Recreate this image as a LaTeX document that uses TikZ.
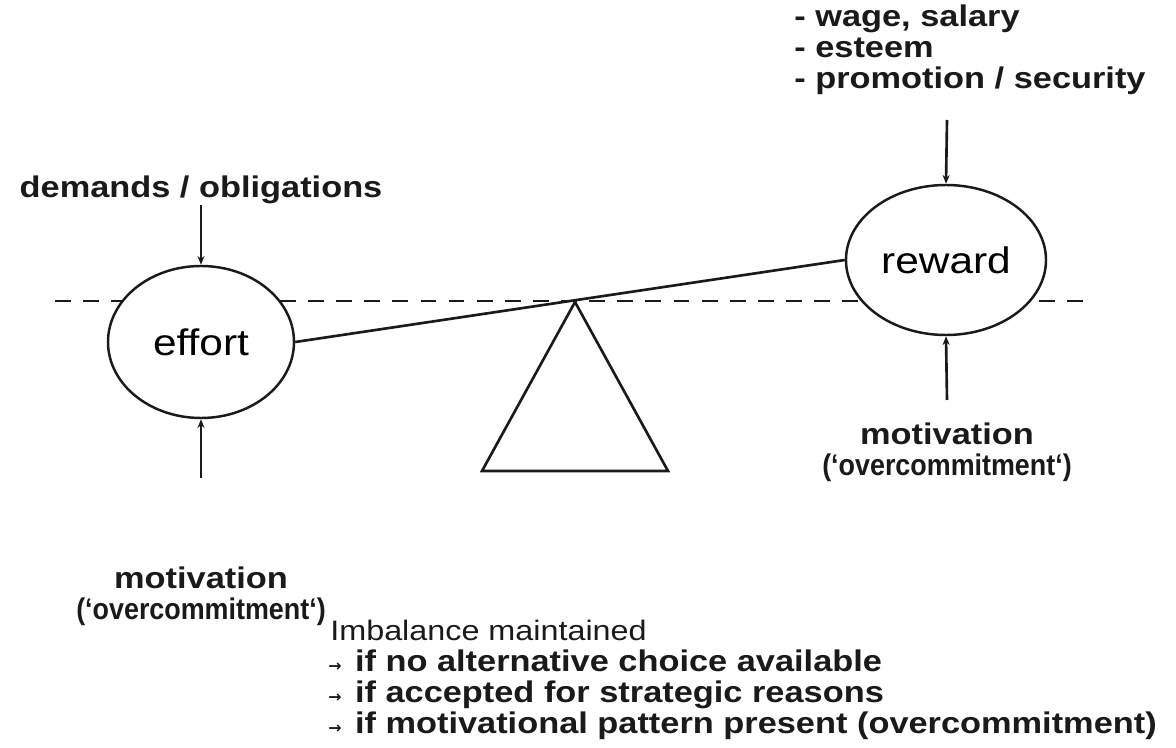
\documentclass[tikz,border=0pt]{standalone}
\usepackage{fontspec}
\setmainfont[FakeStretch=1.15]{Liberation Sans}
\newfontfamily\narrowfont[FakeStretch=0.9]{Liberation Sans}
\newfontfamily\arrowfont{DejaVu Sans}
\usepackage{tikz}
\usetikzlibrary{arrows.meta,shapes.geometric}
\definecolor{ScanInk}{HTML}{1A1A1A}
\newcommand{\tinyarrow}{{\arrowfont\fontsize{9}{9}\selectfont →}\hspace{0.45em}}

\begin{document}
\begin{tikzpicture}[>={Stealth[length=5pt,width=4pt]},
    pan/.style={ellipse,draw=ScanInk,fill=white,line width=1.4pt,font=\fontsize{21}{24}\selectfont},
    tag/.style={font=\bfseries\fontsize{17}{17.6}\selectfont,align=center,text=ScanInk,inner sep=0pt},
    push/.style={->,draw=ScanInk,line width=1.5pt}]
  \useasboundingbox[fill=white] (0,0) rectangle (23.52,-14.96);
  \draw[ScanInk,line width=1.3pt,dash pattern=on 9pt off 7pt] (1.1,-6.02) -- (21.8,-6.02);
  \node[pan,minimum width=3.72cm,minimum height=3.04cm] (effort) at (4.02,-6.84) {effort};
  \node[pan,minimum width=3.64cm,minimum height=3.0cm] (reward) at (18.92,-5.2) {reward};
  \coordinate (pivot) at (11.5,-6.04);
  \draw[ScanInk,line width=1.5pt] (pivot) -- (9.64,-9.42) -- (13.36,-9.42) -- cycle;
  \draw[ScanInk,line width=1.5pt] (effort.east) -- (reward.west);
  \node[tag] (demands) at (4.02,-3.8) {demands / obligations};
  \node[tag] (leftmot) at (4.02,-11.92) {motivation\\{\narrowfont(‘overcommitment‘)}};
  \node[tag,align=left,anchor=west] (gains) at (15.88,-1.0) {- wage, salary\\- esteem\\- promotion / security};
  \node[tag] (rightmot) at (18.94,-9.05) {motivation\\{\narrowfont(‘overcommitment‘)}};
  \coordinate (demandsfoot) at (4.02,-4.1);
  \coordinate (leftmothead) at (4.02,-9.56);
  \coordinate (gainsfoot) at (18.94,-2.4);
  \coordinate (rightmothead) at (18.94,-8.0);
  \draw[push] (demandsfoot) -- (effort.north);
  \draw[push] (leftmothead) -- (effort.south);
  \draw[push] (gainsfoot) -- (reward.north);
  \draw[push] (rightmothead) -- (reward.south);
  \node[tag,font=\fontsize{16}{17.6}\selectfont,anchor=west] (imbalance) at (6.6,-12.6) {Imbalance maintained};
  \node[tag,align=left,anchor=north west] (reasons) at (6.56,-13.0)
    {\tinyarrow if no alternative choice available\\
     \tinyarrow if accepted for strategic reasons\\
     \tinyarrow if motivational pattern present (overcommitment)};
\end{tikzpicture}
\end{document}
